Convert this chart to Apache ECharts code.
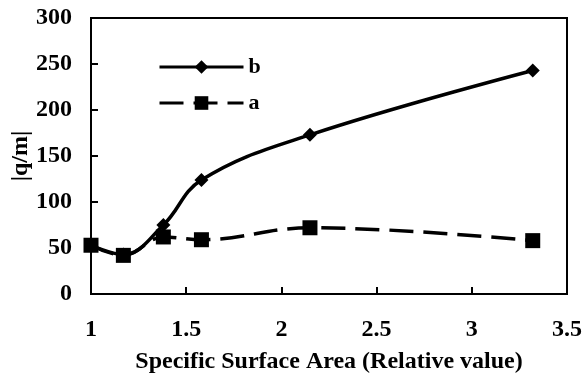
<!DOCTYPE html>
<html><head><meta charset="utf-8">
<script src="https://cdn.jsdelivr.net/npm/echarts@6/dist/echarts.min.js"></script>
<style>html,body{margin:0;padding:0;background:#fff}#c{width:584px;height:379px}</style>
</head><body><div id="c"></div>
<script>
var xValues = [1.0, 1.17, 1.38, 1.58, 2.15, 3.32];
var seriesB = [53, 43, 75, 124, 173, 243];
var seriesA = [53, 42, 62, 59, 72, 58];
var xTicks = [1, 1.5, 2, 2.5, 3, 3.5];
var yTicks = [0, 50, 100, 150, 200, 250, 300];

function pairs(ys){ return xValues.map(function(x,i){return [x, ys[i]];}); }
var font = 'Liberation Serif';
var chart = echarts.init(document.getElementById('c'));
chart.setOption({
  animation: false,
  grid: {left: 91, right: 17, top: 18, bottom: 85, show: true, borderColor: '#000', borderWidth: 2,
         containLabel: false, outerBoundsMode: 'none'},
  legend: {
    left: 153, top: 51, orient: 'vertical', itemWidth: 84, itemHeight: 17, itemGap: 14,
    lineStyle: {width: 3},
    textStyle: {fontFamily: font, fontWeight: 'bold', fontSize: 22, color: '#000'},
    data: ['b', 'a']
  },
  xAxis: {
    type: 'value', min: 1, max: 3.5, interval: 0.5,
    name: 'Specific Surface Area (Relative value)', nameLocation: 'middle', nameGap: 56,
    nameMoveOverlap: false,
    nameTextStyle: {fontFamily: font, fontWeight: 'bold', fontSize: 24, color: '#000'},
    axisLine: {lineStyle: {color: '#000', width: 2}},
    axisTick: {inside: true, length: 7, lineStyle: {color: '#000', width: 2}},
    axisLabel: {fontFamily: font, fontWeight: 'bold', fontSize: 24, color: '#000', margin: 24},
    splitLine: {show: false}
  },
  yAxis: {
    type: 'value', min: 0, max: 300, interval: 50,
    name: '|q/m|', nameLocation: 'middle', nameGap: 58, nameRotate: 90,
    nameMoveOverlap: false,
    nameTextStyle: {fontFamily: font, fontWeight: 'bold', fontSize: 24, color: '#000'},
    axisLine: {show: true, lineStyle: {color: '#000', width: 2}},
    axisTick: {show: true, inside: true, length: 7, lineStyle: {color: '#000', width: 2}},
    axisLabel: {fontFamily: font, fontWeight: 'bold', fontSize: 24, color: '#000', margin: 19},
    splitLine: {show: false}
  },
  series: [
    {name: 'b', type: 'line', data: pairs(seriesB), smooth: 0.4,
     symbol: 'diamond', symbolSize: 14, itemStyle: {color: '#000'},
     lineStyle: {color: '#000', width: 3.5}, z: 3},
    {name: 'a', type: 'line', data: pairs(seriesA), smooth: 0.4,
     symbol: 'rect', symbolSize: 15, itemStyle: {color: '#000'},
     lineStyle: {color: '#000', width: 3.5, type: [24, 10]}, z: 2}
  ]
});
</script></body></html>
